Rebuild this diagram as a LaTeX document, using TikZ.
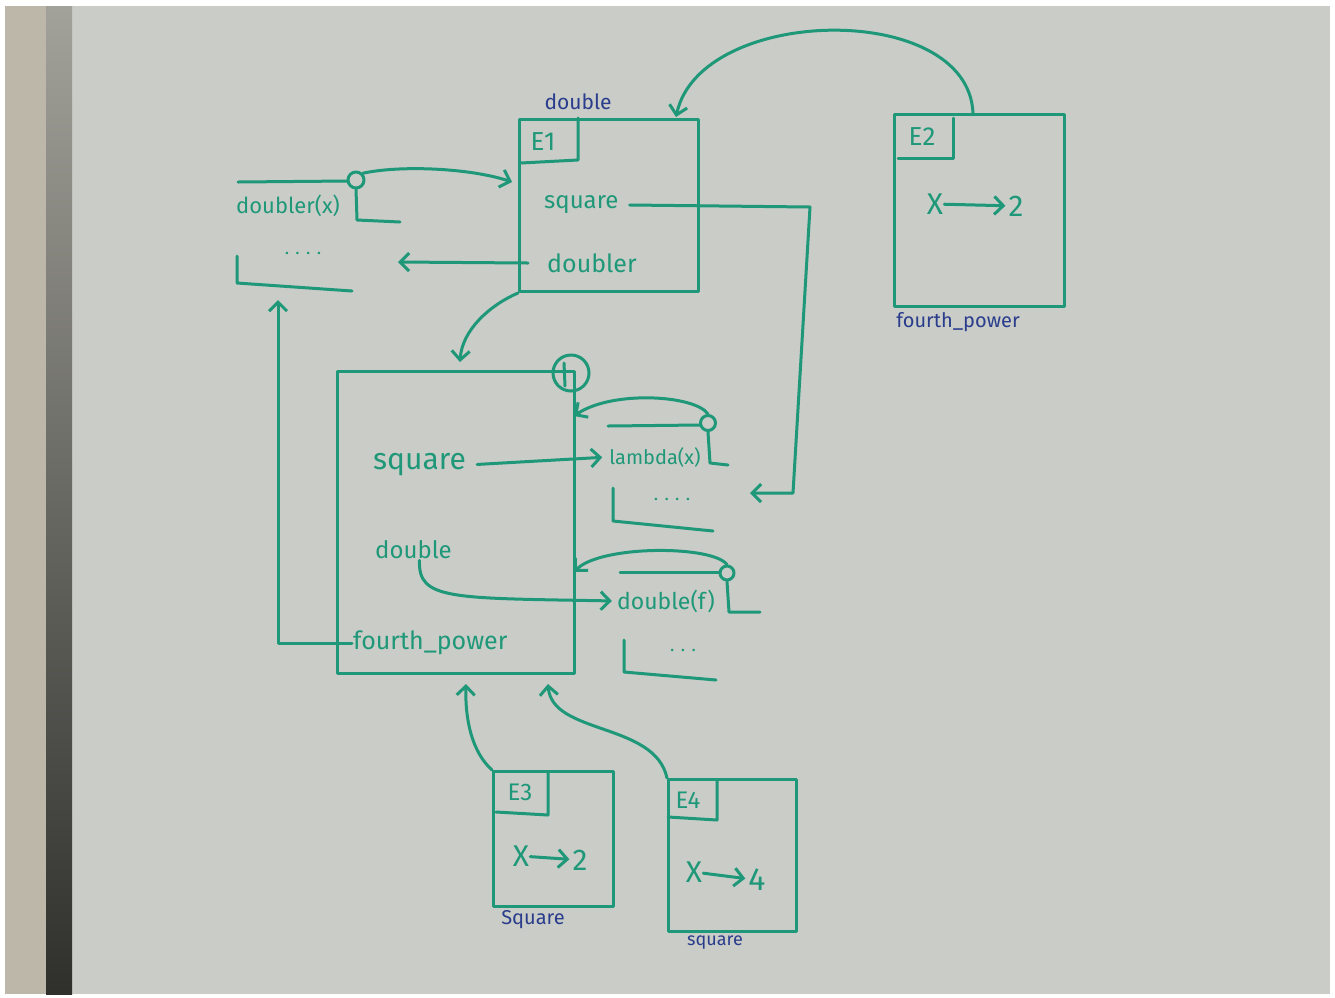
\documentclass[tikz,border=0pt]{standalone}
\usepackage{fontspec}
\setmainfont{Fira Sans}
\usetikzlibrary{arrows.meta}
\definecolor{board}{HTML}{C9CCC7}
\definecolor{trim}{HTML}{BCB7A9}
\definecolor{edgetop}{HTML}{A2A19A}
\definecolor{edgebot}{HTML}{2F302C}
\definecolor{ink}{HTML}{1E9878}
\definecolor{blueink}{HTML}{2A3C8C}
\tikzset{
  pen/.style={draw=ink, line width=3pt, line cap=round, line join=round},
  arrowpen/.style={pen, -{Straight Barb[length=9pt,width=18pt]}},
  frame/.style={pen, rectangle, inner sep=0pt, anchor=north west},
  txt/.style={text=ink, inner sep=1pt, font=\fontsize{#1}{#1}\selectfont},
  note/.style={text=blueink, inner sep=1pt, font=\fontsize{#1}{#1}\selectfont},
  ring/.style={pen, circle, inner sep=0pt, minimum size=#1},
}
\begin{document}
\begin{tikzpicture}[x=1pt,y=-1pt]
\useasboundingbox (0,0) rectangle (1335,997);
% board
\fill[white] (0,0) rectangle (1335,997);
\fill[board] (5,6) rectangle (1330,994);
\fill[trim] (5,6) rectangle (46,994);
\shade[top color=edgetop, bottom color=edgebot] (46,6) rectangle (72,994);

% ---------- frame E1 ----------
\node[frame, minimum width=179pt, minimum height=172pt] (E1) at (518,118) {};
\draw[pen] (578,118) -- (578,160) -- (521,163);
\node[txt=26] (E1name) at (543,142) {E1};
\node[note=21] (E1note) at (578,102) {double};
\node[txt=24, anchor=west] (E1sq) at (543,205) {square};
\node[txt=25, anchor=west] (E1dbl) at (546,263) {doubler};
\coordinate (E1in) at (512,182);
\coordinate (E1top) at (676,117);

% ---------- function doubler ----------
\draw[pen] (238,182) -- (348,181);
\node[ring=16pt] (dblrC) at (356,180) {};
\draw[pen] (dblrC.south) -- (357,220) -- (400,222);
\node[txt=22] (dblrF) at (288,206) {doubler(x)};
\draw[pen] (237,256) -- (237,283) -- (352,291);
\node[txt=18] (dblrDots) at (303,253) {. . . .};
\coordinate (dblrBody) at (398,262);
\coordinate (dblrUp) at (278,300);

\draw[arrowpen] (dblrC.north east) .. controls (400,165) and (470,168) .. (E1in);
\draw[arrowpen] ([xshift=-18pt]E1dbl.west) -- (dblrBody);

% ---------- global frame ----------
\node[frame, minimum width=237pt, minimum height=302pt] (G) at (336,370) {};
\node[ring=36pt] (Gmark) at (571,373) {};
\draw[pen] (564,363) -- (565,386);
\node[txt=30, anchor=west] (Gsq) at (372,465) {square};
\node[txt=24, anchor=west] (Gdbl) at (374,550) {double};
\node[txt=25, anchor=west] (Gfp) at (352,643) {fourth\_power};
\coordinate (Gin) at (460,362);
\coordinate (Gr1) at (574,416);
\coordinate (Gr2) at (574,572);
\coordinate (Gb1) at (466,684);
\coordinate (Gb2) at (548,684);

\draw[arrowpen] (E1.south west) .. controls (490,305) and (462,330) .. (Gin);

% ---------- function lambda ----------
\draw[pen] (608,426) -- (700,425);
\node[ring=15pt] (lamC) at (708,423) {};
\draw[pen] (lamC.south) -- (710,463) -- (728,465);
\node[txt=20] (lamF) at (655,457) {lambda(x)};
\draw[pen] (613,488) -- (613,521) -- (713,531);
\node[txt=18] (lamDots) at (672,499) {. . . .};
\coordinate (lamBody) at (750,493);

\draw[arrowpen] (lamC.north) .. controls (695,395) and (612,390) .. (Gr1);
\draw[arrowpen, shorten <=10pt, shorten >=6pt] (Gsq.east) -- (lamF.west);
\draw[arrowpen] ([xshift=10pt]E1sq.east) -- (810,207) -- (793,493) -- (lamBody);

% ---------- function double ----------
\draw[pen] (620,572) -- (720,572);
\node[ring=14pt] (dfC) at (727,573) {};
\draw[pen] (dfC.south) -- (729,612) -- (760,612);
\node[txt=23] (dfF) at (666,601) {double(f)};
\draw[pen] (624,640) -- (624,672) -- (716,680);
\node[txt=18] (dfDots) at (683,650) {. . .};

\draw[arrowpen] (dfC.north) .. controls (712,545) and (600,545) .. (Gr2);
\draw[arrowpen, shorten >=4pt] ([xshift=6pt]Gdbl.south) .. controls (418,600) and (450,598) .. (dfF.west);
\draw[arrowpen] (Gfp.west) -| (dblrUp);

% ---------- frame E2 ----------
\node[frame, minimum width=170pt, minimum height=192pt] (E2) at (893,113) {};
\draw[pen] (953,118) -- (953,158) -- (898,158);
\node[txt=26] (E2name) at (922,137) {E2};
\node[txt=30] (E2x) at (935,204) {X};
\node[txt=30] (E2v) at (1016,206) {2};
\draw[arrowpen, shorten >=2pt] (E2x) -- (E2v);
\node[note=20] (E2note) at (958,322) {fourth\_power};
\draw[arrowpen] ([xshift=80pt]E2.north west) .. controls (968,0) and (700,5) .. (E1top);

% ---------- frame E3 ----------
\node[frame, minimum width=120pt, minimum height=135pt] (E3) at (492,770) {};
\draw[pen] (548,773) -- (548,815) -- (496,812);
\node[txt=24] (E3name) at (520,792) {E3};
\node[txt=30] (E3x) at (521,856) {X};
\node[txt=30] (E3v) at (580,860) {2};
\draw[arrowpen, shorten >=2pt] (E3x) -- (E3v);
\node[note=20] (E3note) at (533,920) {Square};
\draw[arrowpen] (E3.north west) .. controls (472,752) and (465,720) .. (Gb1);

% ---------- frame E4 ----------
\node[frame, minimum width=128pt, minimum height=152pt] (E4) at (667,778) {};
\draw[pen] (717,780) -- (717,820) -- (668,817);
\node[txt=24] (E4name) at (688,800) {E4};
\node[txt=30] (E4x) at (694,872) {X};
\node[txt=32] (E4v) at (757,880) {4};
\draw[arrowpen, shorten >=2pt] (E4x) -- (E4v);
\node[note=18] (E4note) at (715,943) {square};
\draw[arrowpen] (E4.north west) .. controls (655,722) and (552,735) .. (Gb2);
\end{tikzpicture}
\end{document}
